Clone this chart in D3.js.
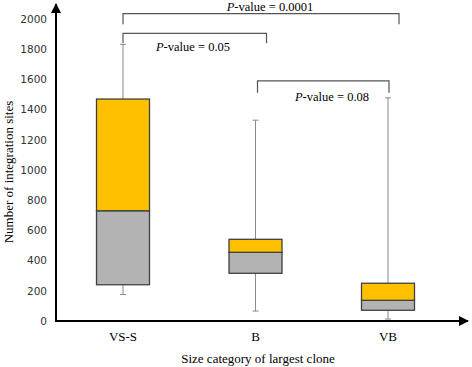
<!DOCTYPE html>
<html><head><meta charset="utf-8">
<script src="https://cdn.jsdelivr.net/npm/d3@7"></script>
<style>body{margin:0;background:#fff}svg{display:block}</style>
</head><body>
<script>
const categories = ["VS-S", "B", "VB"];
const whiskerLow = [175, 66, 13];
const q1 = [240, 316, 71];
const median = [730, 455, 137];
const q3 = [1470, 541, 250];
const whiskerHigh = [1832, 1330, 1478];
const yTicks = [0, 200, 400, 600, 800, 1000, 1200, 1400, 1600, 1800, 2000];
const comparisons = [
  {from: 0, to: 2, p: "0.0001", level: 2035, drop: 70},
  {from: 0, to: 1, p: "0.05", level: 1905, drop: 65},
  {from: 1, to: 2, p: "0.08", level: 1590, drop: 78}
];

const W = 472, H = 367;
const svg = d3.select("body").append("svg").attr("width", W).attr("height", H);
const y = d3.scaleLinear().domain([0, 2000]).range([321, 19]);
const x = d3.scalePoint().domain(categories).range([123, 388]);
const boxW = 53;

const defs = svg.append("defs");
defs.append("marker").attr("id","arr").attr("viewBox","0 0 10 10").attr("refX",9).attr("refY",5)
  .attr("markerWidth",5).attr("markerHeight",5).attr("orient","auto")
  .append("path").attr("d","M0,0L10,5L0,10z").attr("fill","#000");

const g = svg.append("g");
categories.forEach((c, i) => {
  const cx = x(c);
  g.append("line").attr("x1", cx).attr("x2", cx).attr("y1", y(whiskerHigh[i])).attr("y2", y(whiskerLow[i]))
    .attr("stroke", "#8a8a8a").attr("stroke-width", 1);
  [whiskerHigh[i], whiskerLow[i]].forEach(v => {
    g.append("line").attr("x1", cx - 3).attr("x2", cx + 3).attr("y1", y(v)).attr("y2", y(v))
      .attr("stroke", "#8a8a8a").attr("stroke-width", 1);
  });
  g.append("rect").attr("x", cx - boxW/2).attr("width", boxW)
    .attr("y", y(median[i])).attr("height", y(q1[i]) - y(median[i]))
    .attr("fill", "#b3b3b3").attr("stroke", "#404040").attr("stroke-width", 1.3);
  g.append("rect").attr("x", cx - boxW/2).attr("width", boxW)
    .attr("y", y(q3[i])).attr("height", y(median[i]) - y(q3[i]))
    .attr("fill", "#ffc000").attr("stroke", "#404040").attr("stroke-width", 1.3);
});

const yAxis = d3.axisLeft(y).tickValues(yTicks).tickFormat(d3.format("d")).tickSize(0).tickPadding(9);
const ya = svg.append("g").attr("transform", "translate(56,0)").call(yAxis);
ya.select(".domain").remove();
ya.selectAll("text").attr("font-family", "'DejaVu Sans', Verdana, sans-serif").attr("font-size", 10.5).attr("fill", "#333");

svg.append("line").attr("x1", 56).attr("x2", 56).attr("y1", 322).attr("y2", 4)
  .attr("stroke", "#000").attr("stroke-width", 2).attr("marker-end", "url(#arr)");
svg.append("line").attr("x1", 55).attr("x2", 468).attr("y1", 321).attr("y2", 321)
  .attr("stroke", "#000").attr("stroke-width", 2).attr("marker-end", "url(#arr)");

categories.forEach(c => {
  svg.append("text").attr("x", x(c)).attr("y", 341).attr("text-anchor", "middle")
    .attr("font-family", "'Liberation Serif', 'Times New Roman', serif").attr("font-size", 13).text(c);
});
svg.append("text").attr("x", 258).attr("y", 363).attr("text-anchor", "middle")
  .attr("font-family", "'Liberation Serif', 'Times New Roman', serif").attr("font-size", 13)
  .text("Size category of largest clone");
svg.append("text").attr("transform", "translate(13,172) rotate(-90)").attr("text-anchor", "middle")
  .attr("font-family", "'Liberation Serif', 'Times New Roman', serif").attr("font-size", 13)
  .text("Number of integration sites");

// bracket end offsets relative to category centres
const offs = [[0, 11], [0, 11], [2, 1]];
comparisons.forEach((cmp, k) => {
  const x1 = x(categories[cmp.from]) + offs[k][0], x2 = x(categories[cmp.to]) + offs[k][1];
  const yl = y(cmp.level), yd = y(cmp.level - cmp.drop);
  svg.append("path").attr("d", `M${x1},${yd}V${yl}H${x2}V${yd}`)
    .attr("fill", "none").attr("stroke", "#555").attr("stroke-width", 1.2);
});
const labels = [
  {cx: 270, y: 11, p: comparisons[0].p},
  {cx: 193, y: 51, p: comparisons[1].p},
  {cx: 332, y: 101, p: comparisons[2].p}
];
labels.forEach(l => {
  const t = svg.append("text").attr("x", l.cx).attr("y", l.y).attr("text-anchor", "middle")
    .attr("font-family", "'Liberation Serif', 'Times New Roman', serif").attr("font-size", 12.5);
  t.append("tspan").attr("font-style", "italic").text("P");
  t.append("tspan").text("-value = " + l.p);
});
</script>
</body></html>
